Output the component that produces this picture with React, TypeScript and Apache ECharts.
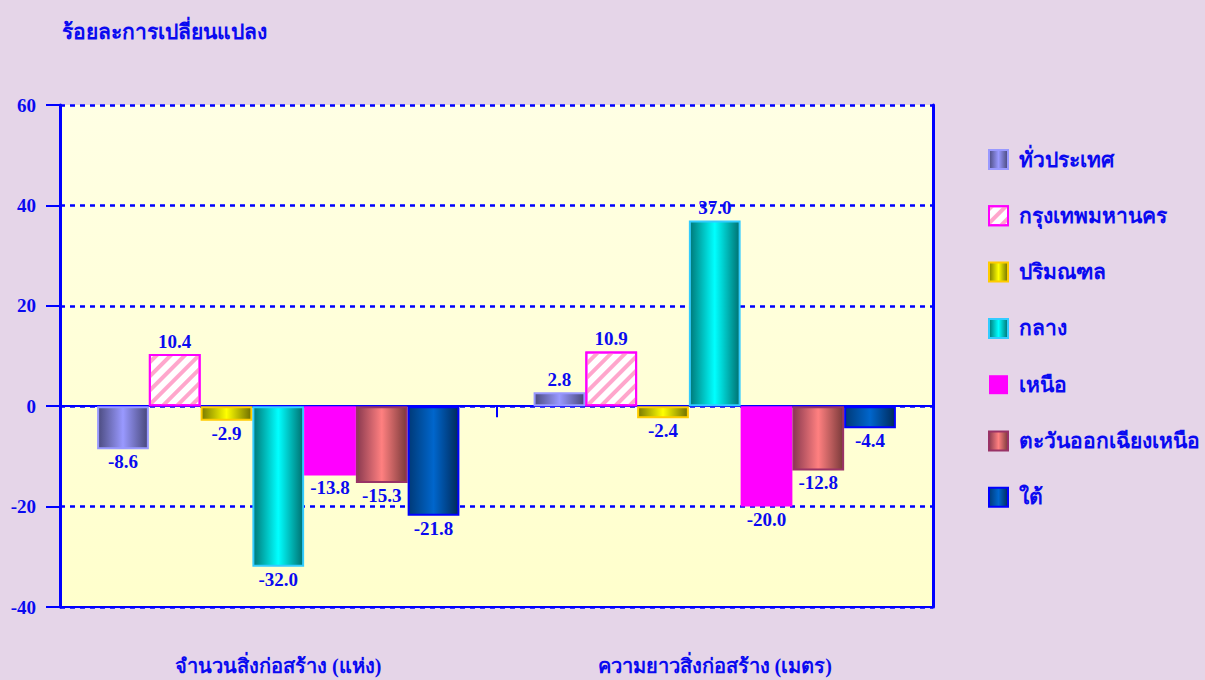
import React, { useEffect, useRef } from "react";
import * as echarts from "echarts";

const categories = ["จำนวนสิ่งก่อสร้าง (แห่ง)", "ความยาวสิ่งก่อสร้าง (เมตร)"];
const seriesNames = [
  "ทั่วประเทศ",
  "กรุงเทพมหานคร",
  "ปริมณฑล",
  "กลาง",
  "เหนือ",
  "ตะวันออกเฉียงเหนือ",
  "ใต้",
];
const wholeCountry = [-8.6, 2.8];
const bangkok = [10.4, 10.9];
const vicinity = [-2.9, -2.4];
const central = [-32.0, 37.0];
const north = [-13.8, -20.0];
const northeast = [-15.3, -12.8];
const south = [-21.8, -4.4];
const yTicks = { min: -40, max: 60, interval: 20 };
const titleText = "ร้อยละการเปลี่ยนแปลง";

const FONT = '"Liberation Serif", "Times New Roman", serif';
const BLUE = "#0a0af0";

function cyl(dark: string, light: string, dark2?: string) {
  return new echarts.graphic.LinearGradient(0, 0, 1, 0, [
    { offset: 0, color: dark },
    { offset: 0.5, color: light },
    { offset: 1, color: dark2 || dark },
  ]);
}

export default function App() {
  const ref = useRef<HTMLDivElement>(null);
  useEffect(() => {
    if (!ref.current) return;
    const chart = echarts.init(ref.current, undefined, { renderer: "svg" });
    const values = [wholeCountry, bangkok, vicinity, central, north, northeast, south];
    const styles: any[] = [
      { color: cyl("#4c4c80", "#9999ff", "#48487a"), borderColor: "#9999ff", borderWidth: 2 },
      {
        color: "#ffffff",
        borderColor: "#ff00ff",
        borderWidth: 2,
        decal: {
          symbol: "rect",
          color: "#ffa6cc",
          dashArrayX: [1, 0],
          dashArrayY: [4, 6],
          rotation: -Math.PI / 4,
          symbolSize: 1,
        },
      },
      { color: cyl("#7a7a00", "#ffff00", "#6e6e00"), borderColor: "#ffcc00", borderWidth: 2 },
      { color: cyl("#007878", "#00ffff", "#007070"), borderColor: "#33ccff", borderWidth: 2 },
      { color: "#ff00ff", borderWidth: 0 },
      { color: cyl("#8a3a50", "#ff8080", "#7a3a3a"), borderColor: "#993366", borderWidth: 2 },
      { color: cyl("#003a78", "#0066cc", "#002a5a"), borderColor: "#0000ff", borderWidth: 2 },
    ];
    const series = seriesNames.map((name, i) => ({
      name,
      type: "bar",
      xAxisIndex: 0,
      yAxisIndex: 0,
      barGap: "0%",
      barCategoryGap: "17%",
      itemStyle: styles[i],
      data: values[i].map((v) => ({
        value: v,
        label: { position: v < 0 ? "bottom" : "top" },
      })),
      label: {
        show: true,
        distance: 3,
        formatter: (p: any) => Number(p.value).toFixed(1),
        color: BLUE,
        fontFamily: FONT,
        fontWeight: "bold",
        fontSize: 19,
      },
    }));
    chart.setOption({
      animation: false,
      backgroundColor: "#e5d5e8",
      title: {
        text: titleText,
        left: 57,
        top: 16,
        textStyle: { color: BLUE, fontFamily: FONT, fontWeight: "bold", fontSize: 21 },
      },
      legend: {
        orient: "vertical",
        left: 983,
        top: 144,
        itemWidth: 19,
        itemHeight: 19,
        itemGap: 35.3,
        icon: "rect",
        data: seriesNames,
        textStyle: {
          color: BLUE,
          fontFamily: FONT,
          fontWeight: "bold",
          fontSize: 21,
          lineHeight: 20,
          padding: [0, 0, 0, 6],
        },
      },
      grid: {
        left: 60,
        right: 272,
        top: 105,
        bottom: 73,
        show: true,
        borderWidth: 0,
        backgroundColor: new echarts.graphic.LinearGradient(0, 0, 0, 1, [
          { offset: 0, color: "#ffffe4" },
          { offset: 1, color: "#ffffcc" },
        ]),
      },
      xAxis: [
        {
          type: "category",
          data: categories,
          position: "bottom",
          axisLine: { onZero: true, lineStyle: { color: "#0000ff", width: 2 } },
          axisTick: { show: true, length: 11, lineStyle: { color: "#0000ff", width: 2 } },
          axisLabel: { show: false },
        },
        {
          type: "category",
          data: categories,
          position: "bottom",
          axisLine: { onZero: false, show: true, lineStyle: { color: "#0000ff", width: 2 } },
          axisTick: { show: false },
          axisLabel: {
            margin: 49,
            color: BLUE,
            fontFamily: FONT,
            fontWeight: "bold",
            fontSize: 20,
          },
        },
      ],
      yAxis: [
        {
          type: "value",
          min: yTicks.min,
          max: yTicks.max,
          interval: yTicks.interval,
          axisLine: { show: true, lineStyle: { color: "#0000ff", width: 3 } },
          axisTick: { show: true, length: 14, lineStyle: { color: "#0000ff", width: 2 } },
          axisLabel: {
            margin: 24,
            color: BLUE,
            fontFamily: FONT,
            fontWeight: "bold",
            fontSize: 19,
          },
          splitLine: {
            show: true,
            lineStyle: { color: "#0000ff", width: 2.5, type: [5, 5] },
          },
        },
        {
          type: "value",
          position: "right",
          min: yTicks.min,
          max: yTicks.max,
          interval: yTicks.interval,
          axisLine: { show: true, lineStyle: { color: "#0000ff", width: 3 } },
          axisTick: { show: false },
          axisLabel: { show: false },
          splitLine: { show: false },
        },
      ],
      series,
    });
    return () => chart.dispose();
  }, []);
  return <div ref={ref} style={{ width: 1205, height: 680, position: "fixed", left: 0, top: 0 }} />;
}
